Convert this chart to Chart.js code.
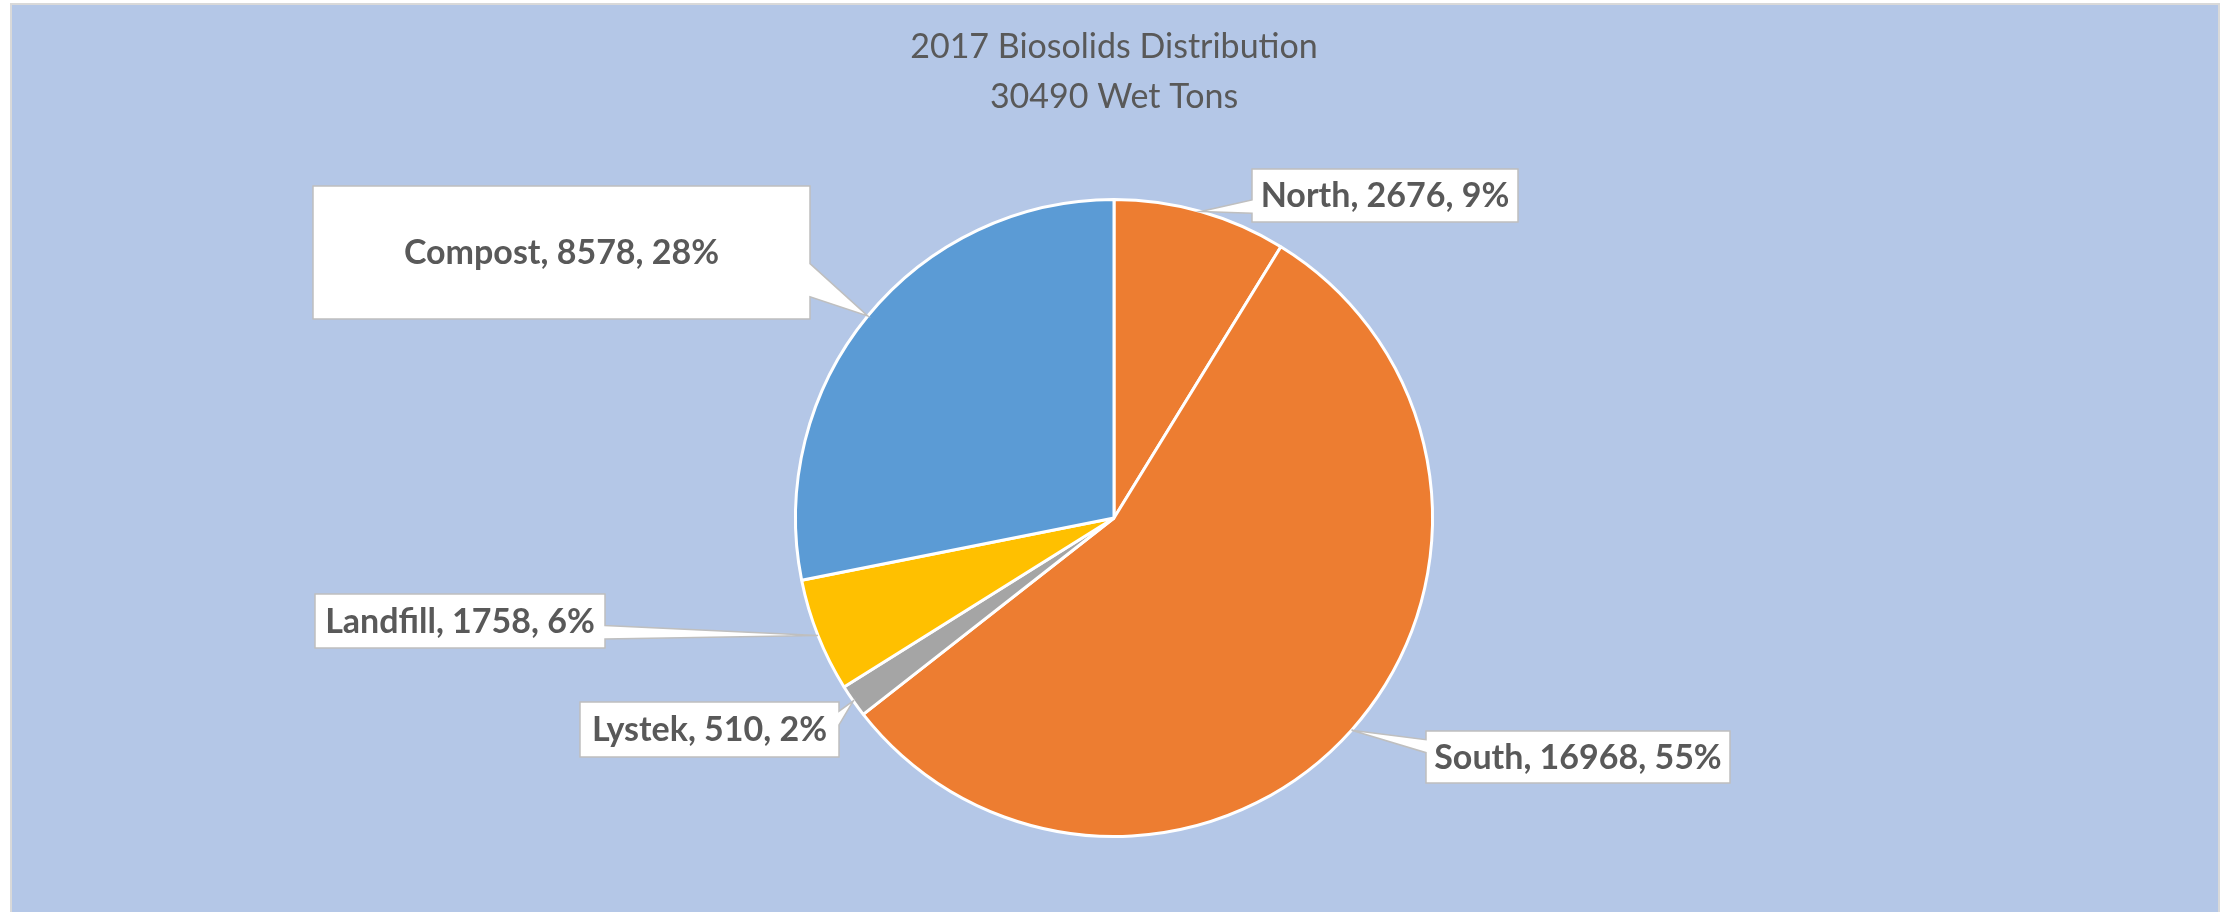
<!DOCTYPE html>
<html>
<head>
<meta charset="utf-8">
<script src="https://cdn.jsdelivr.net/npm/chart.js@4.4.1/dist/chart.umd.min.js"></script>
<style>
  html, body { margin: 0; padding: 0; background: #ffffff; }
  #wrap { position: relative; width: 2231px; height: 912px; }
  canvas { display: block; }
</style>
</head>
<body>
<div id="wrap"><canvas id="c" width="2231" height="912"></canvas></div>
<script>
// ---- data ----
const categories = ['North', 'South', 'Lystek', 'Landfill', 'Compost'];
const wetTons = [2676, 16968, 510, 1758, 8578];
const percentLabels = [9, 55, 2, 6, 28];
const titleLines = ['2017 Biosolids Distribution', '30490 Wet Tons'];

// ---- styling / layout (not data) ----
const sliceColors = ['#ED7D31', '#ED7D31', '#A5A5A5', '#FFC000', '#5B9BD5'];
const calloutBoxes = [
  { x: 1252, y: 169, w: 266, h: 53 },  // North
  { x: 1426, y: 731, w: 304, h: 52 },  // South
  { x: 580,  y: 702, w: 259, h: 55 },  // Lystek
  { x: 315,  y: 594, w: 290, h: 54 },  // Landfill
  { x: 313,  y: 186, w: 497, h: 133 }  // Compost
];
const FONT = "Lato, 'Open Sans', 'DejaVu Sans', sans-serif";

const backgroundPlugin = {
  id: 'bgPanel',
  beforeDraw(chart) {
    const ctx = chart.ctx;
    ctx.save();
    ctx.fillStyle = '#ffffff';
    ctx.fillRect(0, 0, chart.width, chart.height);
    ctx.fillStyle = '#D9D9D9';
    ctx.fillRect(10, 3, 2210, chart.height - 3);
    ctx.fillStyle = '#B4C7E7';
    ctx.fillRect(12, 5, 2206, chart.height - 5);
    ctx.restore();
  }
};

const calloutPlugin = {
  id: 'callouts',
  afterDatasetsDraw(chart) {
    const ctx = chart.ctx;
    const meta = chart.getDatasetMeta(0);
    meta.data.forEach((arc, i) => {
      const p = arc.getProps(['x', 'y', 'startAngle', 'endAngle', 'outerRadius'], true);
      const mid = (p.startAngle + p.endAngle) / 2;
      const tx = p.x + Math.cos(mid) * p.outerRadius;
      const ty = p.y + Math.sin(mid) * p.outerRadius;
      const b = calloutBoxes[i];
      const cx = b.x + b.w / 2, cy = b.y + b.h / 2;
      const dx = tx - cx, dy = ty - cy;
      const dq = dx * b.h / b.w;
      const dz = Math.abs(dy) - Math.abs(dq);
      const x1 = b.x + b.w * (dx > 0 ? 7 : 2) / 12;
      const x2 = b.x + b.w * (dx > 0 ? 10 : 5) / 12;
      const y1 = b.y + b.h * (dy > 0 ? 7 : 2) / 12;
      const y2 = b.y + b.h * (dy > 0 ? 10 : 5) / 12;
      const L = b.x, R = b.x + b.w, T = b.y, B = b.y + b.h;
      ctx.save();
      ctx.beginPath();
      ctx.moveTo(L, T);
      if (dz > 0 && dy < 0) { ctx.lineTo(x1, T); ctx.lineTo(tx, ty); ctx.lineTo(x2, T); }
      ctx.lineTo(R, T);
      if (dz <= 0 && dx > 0) { ctx.lineTo(R, y1); ctx.lineTo(tx, ty); ctx.lineTo(R, y2); }
      ctx.lineTo(R, B);
      if (dz > 0 && dy > 0) { ctx.lineTo(x2, B); ctx.lineTo(tx, ty); ctx.lineTo(x1, B); }
      ctx.lineTo(L, B);
      if (dz <= 0 && dx <= 0) { ctx.lineTo(L, y2); ctx.lineTo(tx, ty); ctx.lineTo(L, y1); }
      ctx.closePath();
      ctx.fillStyle = '#FFFFFF';
      ctx.fill();
      ctx.lineWidth = 1.5;
      ctx.strokeStyle = '#BFBFBF';
      ctx.lineJoin = 'miter';
      ctx.stroke();
      const label = categories[i] + ', ' + wetTons[i] + ', ' + percentLabels[i] + '%';
      ctx.fillStyle = '#595959';
      ctx.font = 'bold 34px ' + FONT;
      ctx.textAlign = 'center';
      ctx.textBaseline = 'middle';
      ctx.fillText(label, cx, cy + 1);
      ctx.restore();
    });
  }
};

new Chart(document.getElementById('c'), {
  type: 'pie',
  data: {
    labels: categories,
    datasets: [{
      data: wetTons,
      backgroundColor: sliceColors,
      borderColor: '#FFFFFF',
      borderWidth: 3
    }]
  },
  options: {
    responsive: false,
    animation: false,
    layout: { padding: { left: 0, right: 3, top: 0, bottom: 74 } },
    plugins: {
      legend: { display: false },
      tooltip: { enabled: false },
      title: {
        display: true,
        text: titleLines,
        color: '#595959',
        font: { family: FONT, size: 34, weight: 'normal', lineHeight: 50 / 34 },
        padding: { top: 22, bottom: 76 }
      }
    }
  },
  plugins: [backgroundPlugin, calloutPlugin]
});
</script>
</body>
</html>
